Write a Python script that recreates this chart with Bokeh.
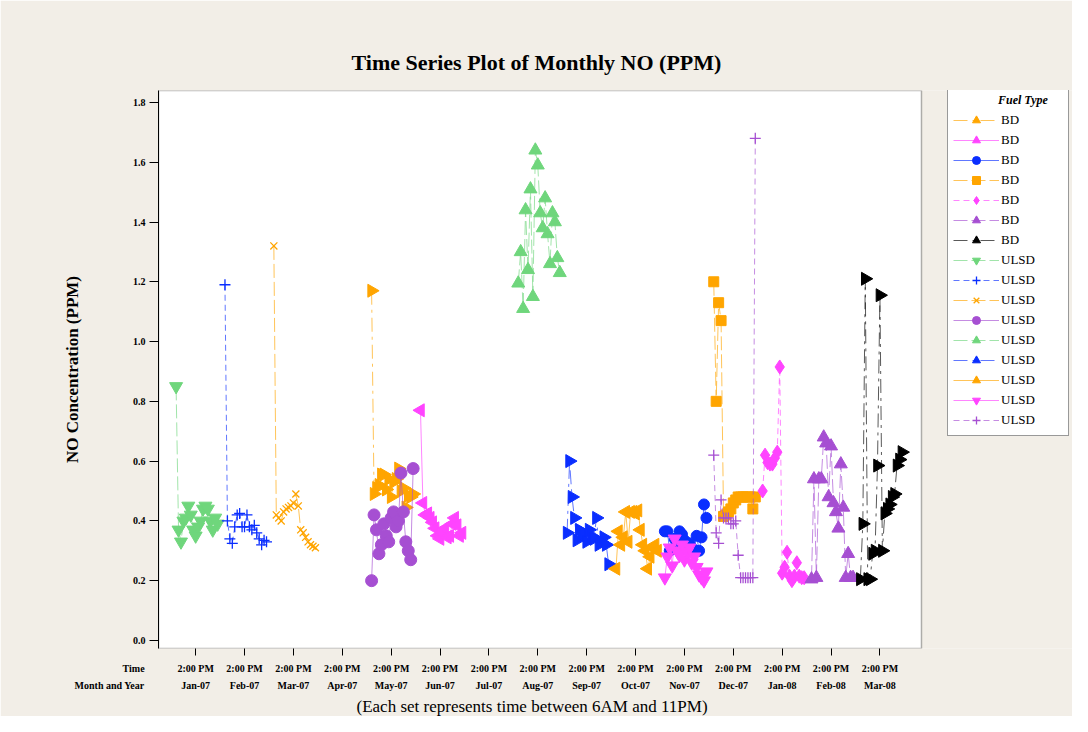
import math
from bokeh.plotting import figure
from bokeh.models import (Range1d, LinearAxis, FixedTicker, Legend, LegendItem,
                          Label, Title, BoxAnnotation)
from bokeh.embed import file_html
from bokeh.resources import INLINE

# ---------------- data ----------------
months = ["Jan-07", "Feb-07", "Mar-07", "Apr-07", "May-07", "Jun-07", "Jul-07",
          "Aug-07", "Sep-07", "Oct-07", "Nov-07", "Dec-07", "Jan-08", "Feb-08",
          "Mar-08"]
time_label = "2:00 PM"
hours = list(range(6, 24))          # each set: 6AM .. 11PM
y_ticks = [0.0, 0.2, 0.4, 0.6, 0.8, 1.0, 1.2, 1.4, 1.6, 1.8]

# BD sets
bd_may07 = [1.17, 0.49, 0.51, 0.52, 0.555, 0.555, 0.505, 0.54, 0.48, 0.53, 0.54,
            0.575, 0.50, 0.51, 0.445, 0.485, 0.48, 0.49]
bd_jun07 = [0.77, 0.46, 0.42, 0.425, 0.41, 0.395, 0.375, 0.35, 0.34, 0.36, 0.375,
            0.345, 0.35, 0.39, 0.41, 0.385, 0.35, 0.36]
bd_nov07 = [0.365, 0.365, 0.30, 0.305, 0.34, 0.32, 0.365, 0.355, 0.335, 0.31,
            0.325, 0.31, 0.30, 0.35, 0.30, 0.345, 0.455, 0.41]
bd_dec07 = [1.20, 0.80, 1.13, 1.07, 0.415, 0.42, 0.43, 0.44, 0.46, 0.47, 0.48,
            0.48, 0.48, 0.48, 0.48, 0.48, 0.44, 0.48]
bd_jan08 = [0.50, 0.62, 0.595, 0.59, 0.59, 0.61, 0.63, 0.915, 0.225, 0.245, 0.295,
            0.215, 0.20, 0.215, 0.26, 0.215, 0.21, 0.21]
bd_feb08 = [0.205, 0.54, 0.21, 0.54, 0.54, 0.68, 0.66, 0.48, 0.65, 0.46, 0.43,
            0.375, 0.59, 0.445, 0.21, 0.29, 0.21, 0.21]
bd_mar08 = [0.205, 0.39, 1.21, 0.205, 0.205, 0.29, 0.30, 0.585, 1.155, 0.30, 0.425,
            0.44, 0.455, 0.48, 0.49, 0.585, 0.605, 0.63]

# ULSD sets
ulsd_jan07 = [0.85, 0.37, 0.33, 0.40, 0.41, 0.45, 0.42, 0.37, 0.35, 0.38, 0.40,
              0.44, 0.45, 0.44, 0.40, 0.37, 0.41, 0.39]
ulsd_feb07 = [1.19, 0.40, 0.34, 0.325, 0.38, 0.42, 0.425, 0.38, 0.38, 0.42, 0.38,
              0.37, 0.385, 0.36, 0.34, 0.32, 0.335, 0.33]
ulsd_mar07 = [1.32, 0.42, 0.41, 0.40, 0.43, 0.44, 0.445, 0.45, 0.46, 0.49, 0.45,
              0.37, 0.36, 0.345, 0.33, 0.32, 0.315, 0.31]
ulsd_may07 = [0.20, 0.42, 0.37, 0.29, 0.32, 0.39, 0.35, 0.33, 0.41, 0.43, 0.38,
              0.40, 0.56, 0.43, 0.33, 0.30, 0.27, 0.575]
ulsd_aug07 = [1.195, 1.30, 1.11, 1.44, 1.24, 1.51, 1.15, 1.64, 1.59, 1.43, 1.38,
              1.48, 1.36, 1.26, 1.43, 1.40, 1.28, 1.23]
ulsd_sep07 = [0.36, 0.60, 0.48, 0.41, 0.335, 0.37, 0.35, 0.36, 0.33, 0.37, 0.35,
              0.34, 0.41, 0.32, 0.33, 0.345, 0.32, 0.255]
ulsd_oct07 = [0.24, 0.365, 0.32, 0.345, 0.43, 0.33, 0.43, 0.43, 0.425, 0.435, 0.37,
              0.32, 0.30, 0.24, 0.28, 0.31, 0.32, 0.30]
ulsd_nov07 = [0.21, 0.28, 0.31, 0.25, 0.34, 0.30, 0.285, 0.32, 0.27, 0.295, 0.31,
              0.26, 0.28, 0.245, 0.22, 0.21, 0.20, 0.23]
ulsd_dec07 = [0.62, 0.36, 0.325, 0.47, 0.41, 0.41, 0.41, 0.39, 0.39, 0.40, 0.285,
              0.21, 0.21, 0.21, 0.21, 0.21, 0.21, 1.68]

# (fuel type, month label, values) in legend order
series = [
    ("BD", "May-07", bd_may07), ("BD", "Jun-07", bd_jun07),
    ("BD", "Nov-07", bd_nov07), ("BD", "Dec-07", bd_dec07),
    ("BD", "Jan-08", bd_jan08), ("BD", "Feb-08", bd_feb08),
    ("BD", "Mar-08", bd_mar08),
    ("ULSD", "Jan-07", ulsd_jan07), ("ULSD", "Feb-07", ulsd_feb07),
    ("ULSD", "Mar-07", ulsd_mar07), ("ULSD", "May-07", ulsd_may07),
    ("ULSD", "Aug-07", ulsd_aug07), ("ULSD", "Sep-07", ulsd_sep07),
    ("ULSD", "Oct-07", ulsd_oct07), ("ULSD", "Nov-07", ulsd_nov07),
    ("ULSD", "Dec-07", ulsd_dec07),
]

# ---------------- styles ----------------
ORANGE, MAGENTA, BLUE = "#ffa500", "#ff44ff", "#0a2eff"
PURPLE, GREEN, BLACK = "#a64fd2", "#6fd67c", "#000000"
R, L = -math.pi / 2, math.pi / 2
DD = "14 5 3 5"
LD = "14 4"
SD = "6 4"
styles = [
    (ORANGE, "triangle", R, DD, 13), (MAGENTA, "triangle", L, "solid", 13),
    (BLUE, "circle", 0, "solid", 11), (ORANGE, "square", 0, LD, 10),
    (MAGENTA, "diamond", 0, SD, 14), (PURPLE, "triangle", 0, LD, 13),
    (BLACK, "triangle", R, DD, 13),
    (GREEN, "inverted_triangle", 0, LD, 13), (BLUE, "cross", 0, SD, 11),
    (ORANGE, "x", 0, LD, 10), (PURPLE, "circle", 0, "solid", 12),
    (GREEN, "triangle", 0, LD, 13), (BLUE, "triangle", R, DD, 13),
    (ORANGE, "triangle", L, "solid", 13), (MAGENTA, "inverted_triangle", 0, "solid", 13),
    (PURPLE, "cross", 0, SD, 11),
]

SERIF = "Liberation Serif"
BG = "#f2eee7"
INK = "black"

# axis limits of the plotting area; the canvas continues to the right
# (same scale) so that the legend can sit beside the plotting area
X_LO, X_HI, X_CANVAS = -0.76, 14.85, 17.94
Y_LO, Y_HI = -0.027, 1.84

p = figure(width=1072, height=716, output_backend="svg", toolbar_location=None,
           x_range=Range1d(X_LO, X_CANVAS), y_range=Range1d(Y_LO, Y_HI),
           min_border_left=158, min_border_right=0, min_border_top=90,
           min_border_bottom=68, border_fill_color=BG, background_fill_color=BG,
           outline_line_color=None)
p.grid.visible = False

# white plotting area with black frame
p.add_layout(BoxAnnotation(left=X_LO, right=X_HI, bottom=Y_LO, top=Y_HI,
                           fill_color="white", fill_alpha=1.0,
                           line_color="black", line_width=1.5, level="underlay"))

p.title.text = "Time Series Plot of Monthly NO (PPM)"
p.title.text_font = SERIF
p.title.text_font_size = "22px"
p.title.text_font_style = "bold"
p.title.text_color = INK
p.title.align = "left"
p.title.offset = 193
p.title.standoff = -13

# y axis
ya = p.yaxis[0]
ya.ticker = FixedTicker(ticks=y_ticks)
ya.major_label_overrides = {t: f"{t:.1f}" for t in y_ticks}
ya.minor_tick_line_color = None
ya.major_tick_out = 9
ya.major_tick_in = 0
ya.major_tick_line_color = INK
ya.major_label_standoff = 4
ya.major_label_text_font = SERIF
ya.major_label_text_font_style = "bold"
ya.major_label_text_font_size = "10px"
ya.major_label_text_color = INK
ya.axis_label = "NO Concentration (PPM)"
ya.axis_label_text_font = SERIF
ya.axis_label_text_font_style = "bold"
ya.axis_label_text_font_size = "17px"
ya.axis_label_text_color = INK
ya.axis_label_standoff = 48
ya.axis_line_color = INK

# x axis: time row
xa = p.xaxis[0]
xa.ticker = FixedTicker(ticks=list(range(len(months))))
xa.major_label_overrides = {i: time_label for i in range(len(months))}
xa.minor_tick_line_color = None
xa.major_tick_out = 7
xa.major_tick_in = 0
xa.major_tick_line_color = INK
xa.major_label_standoff = 7
xa.major_label_text_font = SERIF
xa.major_label_text_font_style = "bold"
xa.major_label_text_font_size = "10px"
xa.major_label_text_color = INK
xa.axis_line_color = None

# x axis: month row
xb = LinearAxis(ticker=FixedTicker(ticks=list(range(len(months)))),
                major_label_overrides={i: m for i, m in enumerate(months)})
xb.minor_tick_line_color = None
xb.major_tick_line_color = None
xb.major_tick_out = 0
xb.major_tick_in = 0
xb.axis_line_color = None
xb.major_label_standoff = 3
xb.major_label_text_font = SERIF
xb.major_label_text_font_style = "bold"
xb.major_label_text_font_size = "10px"
xb.major_label_text_color = INK
p.add_layout(xb, "below")

cap = Title(text="(Each set represents time between 6AM and 11PM)", align="left",
            offset=198, text_font=SERIF, text_font_size="17px",
            text_font_style="normal", text_color=INK, standoff=2)
p.add_layout(cap, "below")

# row captions of the x axis, left of the frame
for txt, yy in (("Time", -0.0937), ("Month and Year", -0.1505)):
    p.add_layout(Label(x=-1.045, y=yy, text=txt,
                       text_align="right", text_baseline="middle",
                       text_font=SERIF, text_font_style="bold",
                       text_font_size="10px", text_color=INK), "above")

items = []
for (fuel, mon, vals), (col, mk, ang, dash, sz) in zip(series, styles):
    m = months.index(mon)
    xs = [m + (h - 14) * 0.05 for h in hours[:len(vals)]]
    ln = p.line(xs, vals, line_color=col, line_width=1, line_alpha=0.65,
                line_dash=dash)
    kw = dict(marker=mk, size=sz, angle=ang, fill_color=col, line_color=col)
    if mk in ("cross", "x"):
        kw["line_width"] = 1.3
    sc = p.scatter(xs, vals, **kw)
    items.append(LegendItem(label=fuel, renderers=[ln, sc]))

leg = Legend(items=items, location=(789, 212), title="\u00a0" * 15 + "Fuel Type",
             title_text_font=SERIF, title_text_font_style="bold italic",
             title_text_font_size="12px", title_text_color=INK, title_standoff=2,
             label_text_font=SERIF, label_text_font_size="13px",
             label_text_color=INK,
             glyph_width=46, glyph_height=20, label_height=18, label_width=62,
             label_standoff=2, spacing=0, padding=5, margin=0,
             border_line_color="#333333", background_fill_color="white",
             background_fill_alpha=1.0)
p.add_layout(leg, "center")

open("out.html", "w").write(file_html(p, INLINE))
